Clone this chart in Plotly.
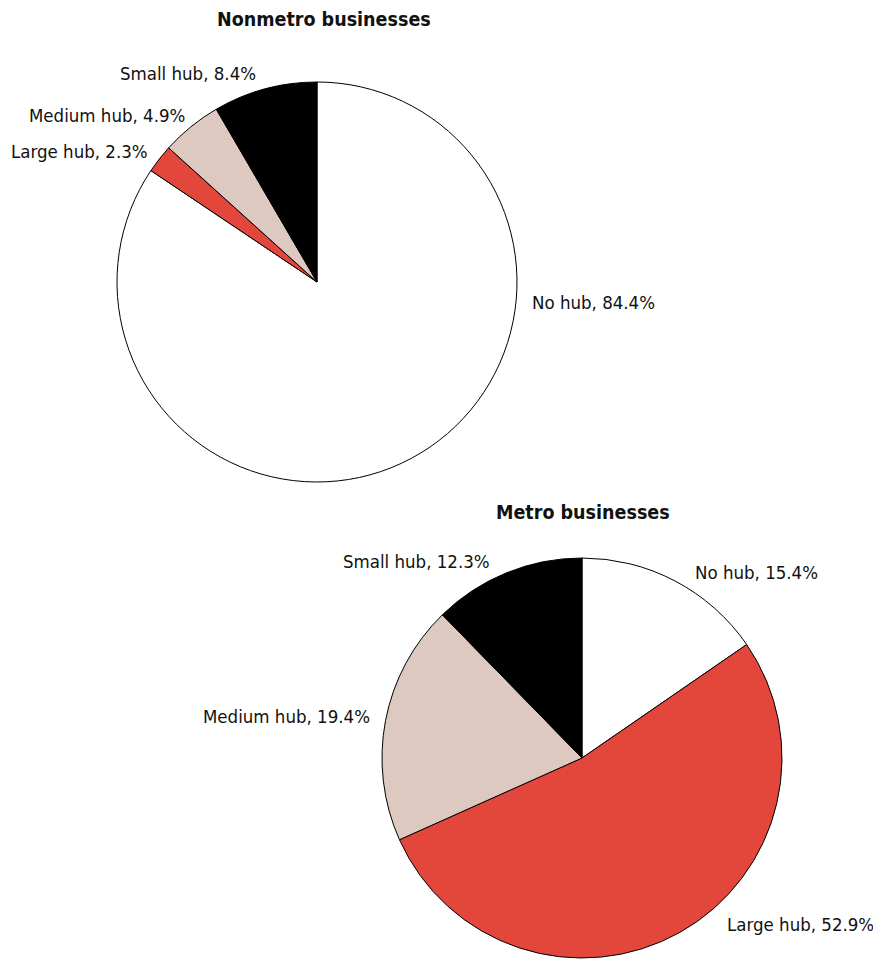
import plotly.graph_objects as go

categories = ["No hub", "Large hub", "Medium hub", "Small hub"]
nonmetro_values = [84.4, 2.3, 4.9, 8.4]
metro_values = [15.4, 52.9, 19.4, 12.3]
colors = ["#ffffff", "#e3463a", "#dec9c1", "#000000"]

# page body has an 8px margin; work in screenshot pixels and convert
OFF = 8
W, H = 881 - OFF, 961 - OFF
FONT = "Liberation Sans Narrow, DejaVu Sans Condensed, Roboto, sans-serif"

def px(x):
    return (x - OFF) / W

def py(y):
    return 1 - (y - OFF) / H

def dom(cx, cy, r):
    return dict(x=[px(cx - r), px(cx + r)], y=[py(cy + r), py(cy - r)])

# label placement (screenshot pixels): (x, y, anchor) in category order
nonmetro_label_pos = [(530, 302, "left"), (150, 152, "right"), (187, 116, "right"), (258, 74, "right")]
metro_label_pos = [(693, 572, "left"), (725, 924, "left"), (372, 716, "right"), (492, 561, "right")]

fig = go.Figure()
for vals, d, lpos in [(nonmetro_values, dom(317, 282, 200), nonmetro_label_pos),
                      (metro_values, dom(582, 758, 200), metro_label_pos)]:
    fig.add_trace(go.Pie(
        labels=categories, values=vals, sort=False, direction="clockwise", rotation=0,
        marker=dict(colors=colors, line=dict(color="#000000", width=1)),
        textinfo="none", domain=d, showlegend=False, hoverinfo="label+value",
    ))
    for cat, v, (x, y, anc) in zip(categories, vals, lpos):
        fig.add_annotation(text=f"{cat}, {v:.1f}%", x=px(x), y=py(y), xref="paper", yref="paper",
                           xanchor=anc, yanchor="middle", showarrow=False,
                           font=dict(family=FONT, size=18.5, color="#111111"))

fig.add_annotation(text="<b>Nonmetro businesses</b>", x=px(323.5), y=py(20), xref="paper", yref="paper",
                   xanchor="center", yanchor="middle", showarrow=False,
                   font=dict(family=FONT, size=19.5, color="#111111"))
fig.add_annotation(text="<b>Metro businesses</b>", x=px(582.5), y=py(512), xref="paper", yref="paper",
                   xanchor="center", yanchor="middle", showarrow=False,
                   font=dict(family=FONT, size=19.5, color="#111111"))

fig.update_layout(width=W, height=H, margin=dict(l=0, r=0, t=0, b=0),
                  paper_bgcolor="white", plot_bgcolor="white")
fig.write_html("out.html")
